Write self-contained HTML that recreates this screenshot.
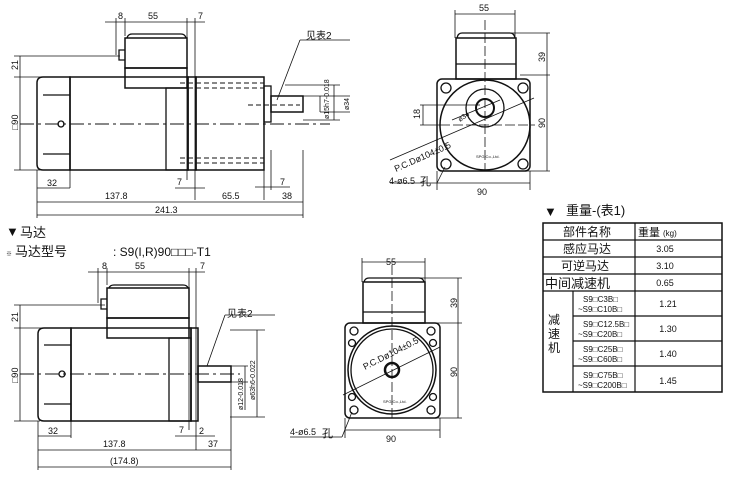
<!DOCTYPE html>
<html><head><meta charset="utf-8"><style>
html,body{margin:0;padding:0;background:#fff;width:733px;height:477px;overflow:hidden}
svg{display:block}
text{font-family:"Liberation Sans","Noto Sans CJK SC",sans-serif;fill:#111}
.c{font-family:"Liberation Sans","Noto Sans CJK SC",sans-serif}
</style></head><body>
<svg width="733" height="477" viewBox="0 0 733 477" xmlns="http://www.w3.org/2000/svg">
<g stroke="#111" fill="none" stroke-width="1.3">
<!-- ===== TOP SIDE VIEW ===== -->
<path d="M43 77 H70 V170 H43 Q37 170 37 164 V83 Q37 77 43 77 Z" stroke-width="1.5"/>
<line x1="43" y1="95" x2="70" y2="95"/><line x1="43" y1="154" x2="70" y2="154"/>
<circle cx="61" cy="124" r="3"/>
<rect x="70" y="77" width="118" height="93" stroke-width="1.5"/>
<rect x="125" y="38" width="62" height="30" stroke-width="1.5"/>
<rect x="125" y="68" width="62" height="20" stroke-width="1.5"/>
<path d="M127 38 Q128 34 132 34 H181 Q185 34 186 38" />
<path d="M125 50 H119 V60 H125"/>
<rect x="166" y="88" width="22" height="82"/>
<rect x="188" y="77" width="8" height="93" stroke-width="1.5"/>
<rect x="196" y="77" width="68" height="93" stroke-width="1.5"/>
<rect x="264" y="86" width="7" height="36"/>
<rect x="271" y="96" width="32" height="16" stroke-width="1.5"/>
<g stroke-dasharray="5,3" stroke-width="0.9">
<line x1="20" y1="124" x2="330" y2="124" stroke-dasharray="14,4,3,4"/>
<line x1="180" y1="83" x2="264" y2="83"/><line x1="180" y1="88" x2="264" y2="88"/>
<line x1="180" y1="158" x2="264" y2="158"/><line x1="180" y1="163" x2="264" y2="163"/>
<line x1="248" y1="105" x2="300" y2="105"/>
</g>
<!-- dims -->
<g stroke-width="0.8">
<line x1="105" y1="22" x2="205" y2="22"/>
<line x1="116" y1="18" x2="116" y2="55"/><line x1="125" y1="18" x2="125" y2="36"/>
<line x1="187" y1="18" x2="187" y2="180"/><line x1="195" y1="18" x2="195" y2="200"/>
<line x1="14" y1="56" x2="120" y2="56"/><line x1="14" y1="77" x2="70" y2="77"/><line x1="14" y1="170" x2="40" y2="170"/>
<line x1="20" y1="56" x2="20" y2="170"/>
<line x1="37" y1="170" x2="37" y2="218"/><line x1="70" y1="170" x2="70" y2="188"/>
<line x1="37" y1="188" x2="70" y2="188"/>
<line x1="175" y1="188" x2="205" y2="188"/>
<line x1="37" y1="202" x2="303" y2="202"/>
<line x1="264" y1="170" x2="264" y2="200"/><line x1="271" y1="150" x2="271" y2="190"/>
<line x1="303" y1="150" x2="303" y2="218"/>
<line x1="255" y1="187" x2="290" y2="187"/>
<line x1="37" y1="215" x2="303" y2="215"/>
<line x1="285" y1="85" x2="340" y2="85"/><line x1="303" y1="120" x2="340" y2="120"/>
<line x1="334" y1="85" x2="334" y2="120"/>
<line x1="300" y1="96" x2="350" y2="96"/><line x1="320" y1="112" x2="350" y2="112"/>
<line x1="320" y1="96" x2="320" y2="112"/>
<line x1="277" y1="100" x2="300" y2="40"/><line x1="300" y1="40" x2="350" y2="40"/>
</g>
</g>
<g font-size="9">
<text x="118" y="19">8</text><text x="148" y="19">55</text><text x="198" y="19">7</text>
<text x="18" y="70" transform="rotate(-90 18 70)" >21</text>
<text x="18" y="130" transform="rotate(-90 18 130)">□90</text>
<text x="47" y="186">32</text><text x="177" y="185">7</text><text x="280" y="185">7</text>
<text x="105" y="199">137.8</text><text x="222" y="199">65.5</text><text x="282" y="199">38</text>
<text x="155" y="213">241.3</text>
<text x="306" y="39" font-size="10">见表2</text>
<text x="329" y="119" font-size="7" transform="rotate(-90 329 119)">ø15h7-0.018</text>
<text x="349" y="110" font-size="7" transform="rotate(-90 349 110)">ø34</text>
</g>

<!-- ===== TOP FRONT VIEW ===== -->
<g stroke="#111" fill="none" stroke-width="1.3">
<rect x="437" y="79" width="93" height="92" rx="5" stroke-width="1.5"/>
<rect x="456" y="38" width="60" height="41" stroke-width="1.5"/>
<line x1="456" y1="64" x2="516" y2="64"/>
<path d="M457 38 Q458 33 462 33 H510 Q514 33 515 38"/>
<circle cx="485" cy="125" r="45" stroke-width="1.5"/>
<circle cx="485" cy="108" r="19"/><circle cx="485" cy="108" r="9" stroke-width="2"/>
<circle cx="446" cy="88" r="5"/><circle cx="523" cy="88" r="5"/>
<circle cx="446" cy="164" r="5"/><circle cx="523" cy="164" r="5"/>
<g stroke-width="0.8">
<line x1="485" y1="20" x2="485" y2="170" stroke-dasharray="10,3"/>
<line x1="440" y1="125" x2="535" y2="125" stroke-dasharray="10,3"/>
<line x1="455" y1="14" x2="515" y2="14"/><line x1="455" y1="10" x2="455" y2="38"/><line x1="515" y1="10" x2="515" y2="38"/>
<line x1="505" y1="33" x2="550" y2="33"/><line x1="520" y1="75" x2="550" y2="75"/><line x1="520" y1="171" x2="550" y2="171"/>
<line x1="547" y1="33" x2="547" y2="171"/>
<line x1="437" y1="183" x2="530" y2="183"/><line x1="437" y1="171" x2="437" y2="190"/><line x1="530" y1="171" x2="530" y2="190"/>
<line x1="420" y1="105" x2="480" y2="105"/><line x1="420" y1="125" x2="440" y2="125"/><line x1="423" y1="105" x2="423" y2="125"/>
<line x1="452" y1="120" x2="500" y2="100"/>
<line x1="390" y1="160" x2="534" y2="98"/>
<line x1="390" y1="183" x2="437" y2="183"/><line x1="437" y1="183" x2="445" y2="167"/>
</g>
</g>
<g font-size="9">
<text x="479" y="11">55</text>
<text x="545" y="62" transform="rotate(-90 545 62)">39</text>
<text x="545" y="128" transform="rotate(-90 545 128)">90</text>
<text x="420" y="119" transform="rotate(-90 420 119)">18</text>
<text x="477" y="195">90</text>
<text x="460" y="122" font-size="7" transform="rotate(-35 460 122)">ø34</text>
<text x="396" y="172" transform="rotate(-24 396 172)">P.C.Dø104±0.5</text>
<text x="389" y="184">4-ø6.5</text><text x="420" y="185" font-size="11">孔</text>
<text x="476" y="158" font-size="4">SPG Co.,Ltd.</text>
</g>

<!-- ===== LABELS ===== -->
<text x="6" y="236" font-size="13">▼</text><text x="20" y="237" font-size="13">马达</text>
<text x="6" y="256" font-size="6">※</text><text x="15" y="256" font-size="13">马达型号</text>
<text x="113" y="256" font-size="12">: S9(I,R)90□□□-T1</text>

<!-- ===== BOTTOM SIDE VIEW ===== -->
<g stroke="#111" fill="none" stroke-width="1.3">
<path d="M44 328 H71 V421 H44 Q38 421 38 415 V334 Q38 328 44 328 Z" stroke-width="1.5"/>
<line x1="44" y1="345" x2="71" y2="345"/><line x1="44" y1="404" x2="71" y2="404"/>
<circle cx="62" cy="374" r="3"/>
<rect x="71" y="328" width="120" height="93" stroke-width="1.5"/>
<rect x="107" y="288" width="82" height="30" stroke-width="1.5"/>
<rect x="107" y="318" width="82" height="20" stroke-width="1.5"/>
<path d="M109 288 Q110 285 114 285 H183 Q187 285 188 288"/>
<path d="M107 299 H101 V309 H107"/>
<rect x="169" y="338" width="22" height="83"/>
<rect x="191" y="328" width="7" height="93" stroke-width="1.5"/>
<rect x="198" y="366" width="33" height="16" stroke-width="1.5"/>
<line x1="20" y1="374" x2="240" y2="374" stroke-dasharray="14,4,3,4" stroke-width="0.9"/>
<g stroke-width="0.8">
<line x1="88" y1="272" x2="205" y2="272"/>
<line x1="98" y1="268" x2="98" y2="303"/><line x1="107" y1="268" x2="107" y2="285"/>
<line x1="189" y1="268" x2="189" y2="430"/><line x1="196" y1="268" x2="196" y2="450"/>
<line x1="14" y1="305" x2="105" y2="305"/><line x1="14" y1="328" x2="70" y2="328"/><line x1="14" y1="421" x2="40" y2="421"/>
<line x1="20" y1="305" x2="20" y2="421"/>
<line x1="38" y1="421" x2="38" y2="470"/><line x1="71" y1="421" x2="71" y2="438"/>
<line x1="38" y1="436" x2="71" y2="436"/>
<line x1="175" y1="436" x2="215" y2="436"/>
<line x1="38" y1="450" x2="231" y2="450"/>
<line x1="231" y1="382" x2="231" y2="470"/>
<line x1="38" y1="467" x2="231" y2="467"/>
<line x1="230" y1="366" x2="248" y2="366"/><line x1="230" y1="382" x2="248" y2="382"/><line x1="245" y1="366" x2="245" y2="410"/>
<line x1="230" y1="330" x2="265" y2="330"/><line x1="230" y1="417" x2="265" y2="417"/><line x1="257" y1="330" x2="257" y2="417"/>
<line x1="207" y1="366" x2="225" y2="315"/><line x1="225" y1="315" x2="275" y2="315"/>
</g>
</g>
<g font-size="9">
<text x="102" y="269">8</text><text x="135" y="269">55</text><text x="200" y="269">7</text>
<text x="18" y="322" transform="rotate(-90 18 322)">21</text>
<text x="18" y="383" transform="rotate(-90 18 383)">□90</text>
<text x="48" y="434">32</text><text x="179" y="433">7</text><text x="199" y="434">2</text>
<text x="103" y="447">137.8</text><text x="208" y="447">37</text>
<text x="110" y="464">(174.8)</text>
<text x="227" y="317" font-size="10">见表2</text>
<text x="243" y="410" font-size="7" transform="rotate(-90 243 410)">ø12-0.018</text>
<text x="255" y="400" font-size="7" transform="rotate(-90 255 400)">ø63h6-0.022</text>
</g>

<!-- ===== BOTTOM FRONT VIEW ===== -->
<g stroke="#111" fill="none" stroke-width="1.3">
<rect x="345" y="323" width="95" height="95" rx="5" stroke-width="1.5"/>
<rect x="363" y="282" width="62" height="41" stroke-width="1.5"/>
<line x1="363" y1="312" x2="425" y2="312"/>
<path d="M364 282 Q365 278 369 278 H419 Q423 278 424 282"/>
<circle cx="392" cy="370" r="44" stroke-width="1.5"/>
<circle cx="392" cy="370" r="41"/>
<circle cx="392" cy="370" r="7" stroke-width="2.5"/>
<circle cx="354" cy="331" r="4"/><circle cx="431" cy="331" r="4"/>
<circle cx="354" cy="410" r="4"/><circle cx="431" cy="410" r="4"/>
<circle cx="352" cy="343" r="3.5"/><circle cx="433" cy="343" r="3.5"/>
<circle cx="352" cy="397" r="3.5"/><circle cx="433" cy="397" r="3.5"/>
<g stroke-width="0.8">
<line x1="392" y1="265" x2="392" y2="418" stroke-dasharray="10,3"/>
<line x1="362" y1="262" x2="425" y2="262"/><line x1="362" y1="258" x2="362" y2="282"/><line x1="425" y1="258" x2="425" y2="282"/>
<line x1="420" y1="278" x2="462" y2="278"/><line x1="435" y1="323" x2="462" y2="323"/><line x1="435" y1="418" x2="462" y2="418"/>
<line x1="458" y1="278" x2="458" y2="418"/>
<line x1="345" y1="430" x2="440" y2="430"/><line x1="345" y1="418" x2="345" y2="438"/><line x1="440" y1="418" x2="440" y2="438"/>
<line x1="343" y1="395" x2="440" y2="347"/>
<line x1="290" y1="437" x2="342" y2="437"/><line x1="342" y1="437" x2="352" y2="412"/>
</g>
</g>
<g font-size="9">
<text x="386" y="265">55</text>
<text x="457" y="308" transform="rotate(-90 457 308)">39</text>
<text x="457" y="377" transform="rotate(-90 457 377)">90</text>
<text x="386" y="442">90</text>
<text x="365" y="370" transform="rotate(-27 365 370)">P.C.Dø104±0.5</text>
<text x="290" y="435">4-ø6.5</text><text x="322" y="437" font-size="11">孔</text>
<text x="383" y="403" font-size="4">SPG Co.,Ltd.</text>
</g>

<!-- ===== TABLE ===== -->
<text x="544" y="216" font-size="13">▼</text><text x="566" y="215" font-size="13">重量-(表1)</text>
<g stroke="#111" fill="none" stroke-width="1.2">
<rect x="543" y="223" width="179" height="169" stroke-width="1.5"/>
<line x1="543" y1="240" x2="722" y2="240"/>
<line x1="543" y1="257" x2="722" y2="257"/>
<line x1="543" y1="274" x2="722" y2="274"/>
<line x1="543" y1="291" x2="722" y2="291"/>
<line x1="573" y1="316" x2="722" y2="316"/>
<line x1="573" y1="341" x2="722" y2="341"/>
<line x1="573" y1="366" x2="722" y2="366"/>
<line x1="573" y1="291" x2="573" y2="392"/>
<line x1="635" y1="223" x2="635" y2="392"/>
</g>
<g font-size="12">
<text x="563" y="236">部件名称</text>
<text x="638" y="236" font-size="11">重量</text><text x="663" y="236" font-size="8">(kg)</text>
<text x="563" y="253">感应马达</text>
<text x="561" y="270">可逆马达</text>
<text x="545" y="288" font-size="13">中间减速机</text>
<text x="548" y="324">减</text><text x="548" y="338">速</text><text x="548" y="352">机</text>
</g>
<g font-size="9" text-anchor="middle">
<text x="665" y="252">3.05</text><text x="665" y="269">3.10</text><text x="665" y="286">0.65</text>
<text x="668" y="307">1.21</text><text x="668" y="332">1.30</text><text x="668" y="357">1.40</text><text x="668" y="384">1.45</text>
</g>
<g font-size="8">
<text x="583" y="302">S9□C3B□</text><text x="578" y="312">~S9□C10B□</text>
<text x="583" y="327">S9□C12.5B□</text><text x="578" y="337">~S9□C20B□</text>
<text x="583" y="352">S9□C25B□</text><text x="578" y="362">~S9□C60B□</text>
<text x="583" y="378">S9□C75B□</text><text x="578" y="388">~S9□C200B□</text>
</g>
</svg>
</body></html>
